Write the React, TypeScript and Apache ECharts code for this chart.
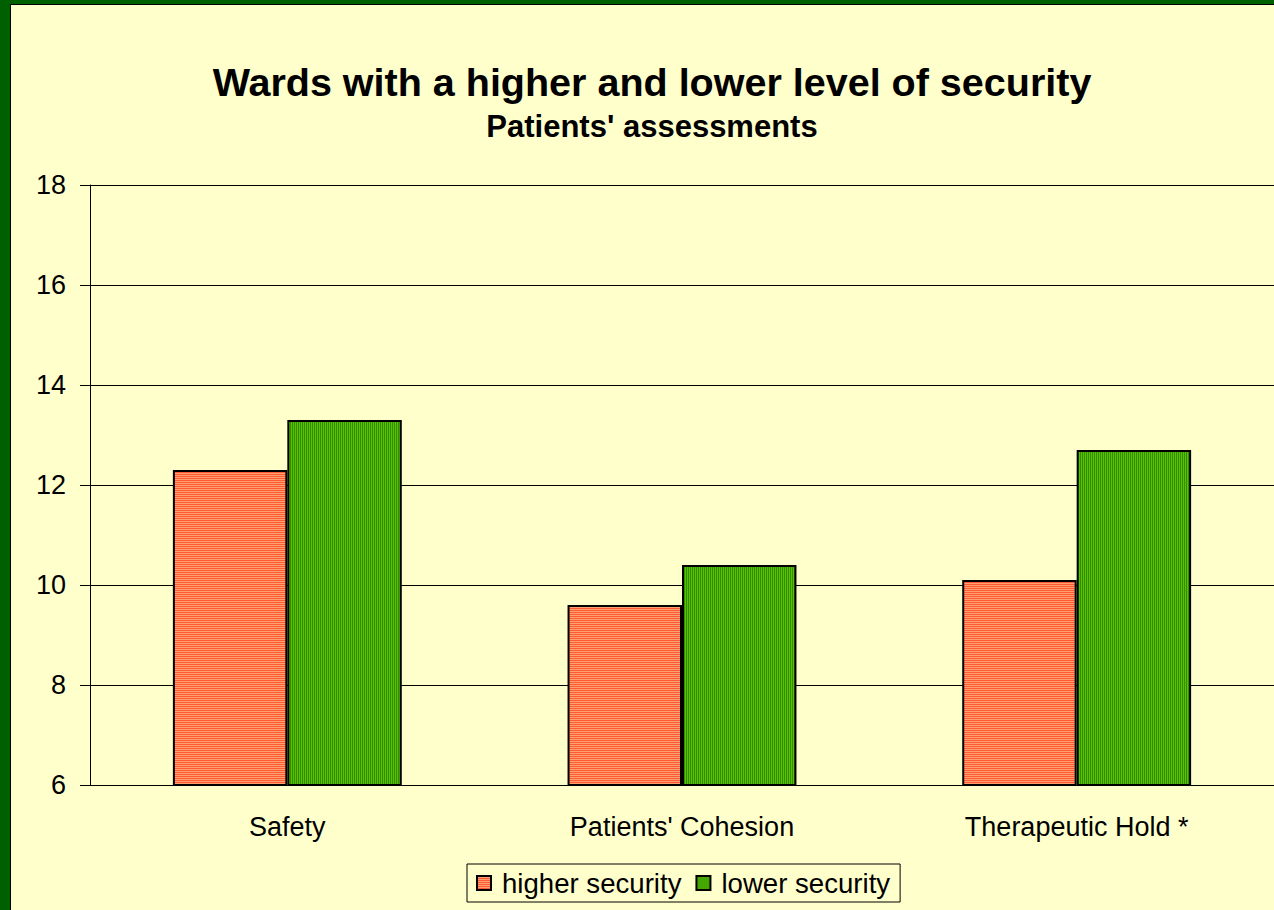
import React, { useEffect, useRef } from "react";
import * as echarts from "echarts";

const categories = ["Safety", "Patients' Cohesion", "Therapeutic Hold *"];
const higherSecurity = [12.3, 9.6, 10.1];
const lowerSecurity = [13.3, 10.4, 12.7];
const seriesNames = ["higher security", "lower security"];
const titleText = "Wards with a higher and lower level of security";
const subtitleText = "Patients' assessments";

function makePattern(c1: string, c2: string, vertical: boolean) {
  const cv = document.createElement("canvas");
  cv.width = 2;
  cv.height = 2;
  const ctx = cv.getContext("2d")!;
  ctx.fillStyle = c1;
  ctx.fillRect(0, 0, 2, 2);
  ctx.fillStyle = c2;
  if (vertical) ctx.fillRect(1, 0, 1, 2);
  else ctx.fillRect(0, 1, 2, 1);
  return { image: cv, repeat: "repeat" } as any;
}

export default function App() {
  const ref = useRef<HTMLDivElement>(null);
  useEffect(() => {
    const chart = echarts.init(ref.current!, null, { renderer: "svg" });
    const orange = makePattern("#FF5A33", "#FFA070", false);
    const green = makePattern("#2E8F00", "#5CBF00", true);
    const font = "Arial, 'Liberation Sans', sans-serif";
    chart.setOption({
      animation: false,
      backgroundColor: "#006000",
      textStyle: { fontFamily: font },
      graphic: [
        {
          type: "rect",
          z: -10,
          shape: { x: 10.5, y: 4.5, width: 1400, height: 1000 },
          style: { fill: "#FFFFCC", stroke: "#000", lineWidth: 1 },
        },
        {
          type: "text",
          x: 652,
          y: 82,
          style: {
            text: titleText,
            font: `bold 39.5px ${font}`,
            fill: "#000",
            align: "center",
            verticalAlign: "middle",
          },
        },
        {
          type: "text",
          x: 652,
          y: 126,
          style: {
            text: subtitleText,
            font: `bold 31px ${font}`,
            fill: "#000",
            align: "center",
            verticalAlign: "middle",
          },
        },
      ],
      grid: { left: 90, top: 185, width: 1185, height: 600 },
      legend: {
        bottom: 8,
        left: 467,
        itemWidth: 14,
        itemHeight: 14,
        itemGap: 14,
        padding: [4, 10, 4, 9],
        borderColor: "#000",
        borderWidth: 1,
        backgroundColor: "#FFFFCC",
        textStyle: {
          fontSize: 27.6,
          lineHeight: 30,
          color: "#000",
          fontFamily: font,
          padding: [0, 0, 0, 6],
        },
        data: seriesNames.map((n) => ({ name: n, icon: "rect" })),
      },
      xAxis: {
        type: "category",
        data: categories,
        axisLine: { lineStyle: { color: "#000", width: 1 } },
        axisTick: { length: 10, lineStyle: { color: "#000" } },
        axisLabel: { fontSize: 27, color: "#000", margin: 28, fontFamily: font },
      },
      yAxis: {
        type: "value",
        min: 6,
        max: 18,
        interval: 2,
        axisLine: { show: true, lineStyle: { color: "#000", width: 1 } },
        axisTick: { show: true, length: 10, lineStyle: { color: "#000" } },
        axisLabel: { fontSize: 27, color: "#000", margin: 24, fontFamily: font },
        splitLine: { lineStyle: { color: "#000", width: 1 } },
      },
      series: [
        {
          name: seriesNames[0],
          type: "bar",
          data: higherSecurity,
          barGap: "0%",
          barCategoryGap: "42%",
          itemStyle: { color: orange, borderColor: "#000", borderWidth: 2 },
        },
        {
          name: seriesNames[1],
          type: "bar",
          data: lowerSecurity,
          barGap: "0%",
          barCategoryGap: "42%",
          itemStyle: { color: green, borderColor: "#000", borderWidth: 2 },
        },
      ],
    });
    return () => chart.dispose();
  }, []);
  return (
    <div
      ref={ref}
      style={{ position: "absolute", left: 0, top: 0, width: 1274, height: 910 }}
    />
  );
}
